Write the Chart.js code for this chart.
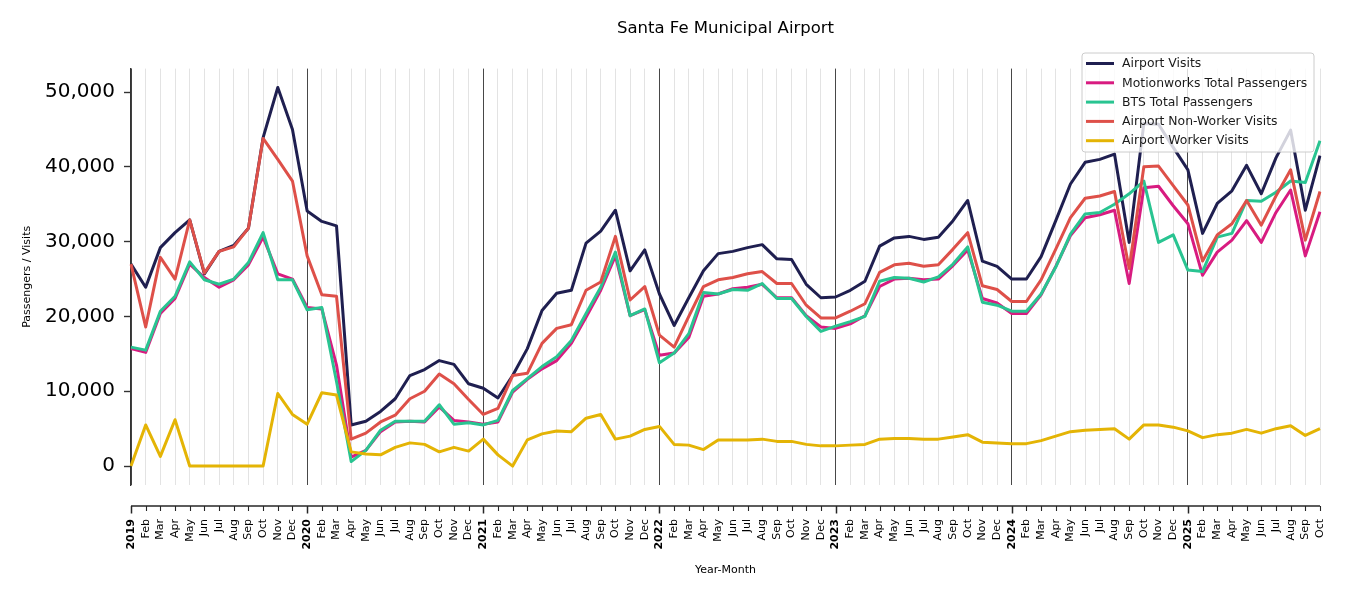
<!DOCTYPE html>
<html>
<head>
<meta charset="utf-8">
<script src="https://cdn.jsdelivr.net/npm/chart.js@4.4.1/dist/chart.umd.min.js"></script>
<style>
html,body{margin:0;padding:0;background:#fff;}
canvas{display:block;}
</style>
</head>
<body>
<canvas id="c" width="1350" height="600"></canvas>
<script>
// ---------- DATA ----------
const categories = [
  '2019','Feb','Mar','Apr','May','Jun','Jul','Aug','Sep','Oct','Nov','Dec',
  '2020','Feb','Mar','Apr','May','Jun','Jul','Aug','Sep','Oct','Nov','Dec',
  '2021','Feb','Mar','Apr','May','Jun','Jul','Aug','Sep','Oct','Nov','Dec',
  '2022','Feb','Mar','Apr','May','Jun','Jul','Aug','Sep','Oct','Nov','Dec',
  '2023','Feb','Mar','Apr','May','Jun','Jul','Aug','Sep','Oct','Nov','Dec',
  '2024','Feb','Mar','Apr','May','Jun','Jul','Aug','Sep','Oct','Nov','Dec',
  '2025','Feb','Mar','Apr','May','Jun','Jul','Aug','Sep','Oct'
];

const airportVisits = [
  27000,23900,29200,31200,32900,25700,28700,29500,31800,43900,50600,45000,
  34100,32700,32100,5500,6000,7300,9000,12100,12900,14100,13600,11000,
  10400,9100,12100,15700,20800,23100,23500,29800,31400,34200,26100,28900,
  23000,18800,22500,26100,28400,28700,29200,29600,27700,27600,24300,22500,
  22600,23500,24700,29400,30500,30700,30300,30600,32800,35500,27400,26700,
  25000,25000,28000,32800,37700,40600,41000,41700,29900,45800,45700,42600,
  39600,31100,35100,36800,40200,36400,41200,44900,34200,41500
];

const motionworksPassengers = [
  15700,15200,20400,22400,27000,25200,23900,24900,26900,30600,25700,25000,
  21200,21000,13500,1200,2100,4600,5900,6000,5900,7900,6100,5900,
  5600,5900,9900,11600,13000,14100,16400,19900,23500,28100,20100,20900,
  14800,15100,17200,22700,23000,23700,23900,24300,22500,22500,20100,18600,
  18400,19000,20100,24000,25000,25100,24900,25000,26800,28900,22400,21800,
  20400,20400,22900,26700,30800,33200,33600,34200,24400,37200,37400,34800,
  32400,25500,28600,30200,32800,29900,33900,36900,28100,34000
];

const btsPassengers = [
  15900,15500,20700,22700,27300,24900,24300,25000,27200,31200,24900,24900,
  20900,21200,11300,600,2100,4800,6000,6000,6000,8200,5600,5800,
  5500,6100,10100,11700,13300,14600,16800,20400,23900,28600,20100,21000,
  13800,15100,17700,23200,23000,23600,23500,24400,22400,22400,20000,18000,
  18700,19300,20000,24700,25200,25100,24600,25300,27000,29300,21900,21500,
  20700,20700,23000,26600,31000,33700,33900,35000,36400,38100,29900,30900,
  26200,26000,30600,31100,35500,35400,36600,38100,37900,43500
];

const nonWorkerVisits = [
  27000,18600,27900,25000,32900,25800,28700,29300,31800,43800,41000,38100,
  28100,22900,22700,3600,4400,5900,6800,9000,10000,12300,11000,8900,
  6900,7700,12100,12400,16400,18400,18900,23500,24600,30700,22200,24000,
  17500,15900,20000,24000,24900,25200,25700,26000,24400,24400,21500,19800,
  19800,20700,21700,25900,26900,27100,26700,26900,29000,31200,24100,23600,
  22000,22000,24900,29000,33200,35800,36100,36700,26400,40000,40100,37500,
  34900,27400,30900,32400,35500,32200,36100,39600,30200,36700
];

const workerVisits = [
  0,5500,1300,6200,0,0,0,0,0,0,9700,6900,
  5600,9800,9500,1900,1600,1500,2500,3100,2900,1900,2500,2000,
  3600,1500,0,3500,4300,4700,4600,6400,6900,3600,4000,4900,
  5300,2900,2800,2200,3500,3500,3500,3600,3300,3300,2900,2700,
  2700,2800,2900,3600,3700,3700,3600,3600,3900,4200,3200,3100,
  3000,3000,3400,4000,4600,4800,4900,5000,3600,5500,5500,5200,
  4700,3800,4200,4400,4900,4400,5000,5400,4100,5000
];

const seriesNames = [
  'Airport Visits',
  'Motionworks Total Passengers',
  'BTS Total Passengers',
  'Airport Non-Worker Visits',
  'Airport Worker Visits'
];
const yTicks = [0, 10000, 20000, 30000, 40000, 50000];
const yMin = -2530;
const yMax = 53130;

const chartTitle = 'Santa Fe Municipal Airport';
const yTitle = 'Passengers / Visits';
const xTitle = 'Year-Month';

// ---------- STYLE ----------
const FONT = 'DejaVu Sans';
const colors = ['#1f1f50', '#d81b80', '#29c491', '#de5049', '#e4b405'];
const isYear = (i) => /^\d{4}$/.test(categories[i] || '');

const seriesData = [airportVisits, motionworksPassengers, btsPassengers, nonWorkerVisits, workerVisits];

const datasets = seriesData.map((d, i) => ({
  label: seriesNames[i],
  data: d,
  borderColor: colors[i],
  backgroundColor: colors[i],
  borderWidth: 3,
  pointRadius: 0,
  pointHoverRadius: 0,
  tension: 0,
  fill: false,
  borderJoinStyle: 'round',
  borderCapStyle: 'butt',
  order: seriesData.length - i
}));

const xAxisPlugin = {
  id: 'offsetXAxis',
  afterDraw(chart) {
    const xs = chart.scales.x;
    const ctx = chart.ctx;
    const yAxisLine = chart.chartArea.bottom + 21;
    ctx.save();
    ctx.strokeStyle = '#262626';
    ctx.lineWidth = 1.5;
    ctx.beginPath();
    ctx.moveTo(xs.getPixelForValue(0), yAxisLine);
    ctx.lineTo(xs.getPixelForValue(categories.length - 1), yAxisLine);
    ctx.stroke();
    for (let i = 0; i < categories.length; i++) {
      const px = Math.round(xs.getPixelForValue(i)) + 0.5;
      ctx.lineWidth = isYear(i) ? 1.5 : 1.1;
      ctx.beginPath();
      ctx.moveTo(px, yAxisLine);
      ctx.lineTo(px, yAxisLine + (isYear(i) ? 7.5 : 5));
      ctx.stroke();
    }
    ctx.restore();
  }
};

const legendPlugin = {
  id: 'boxLegend',
  afterDraw(chart) {
    const ctx = chart.ctx;
    const x0 = 1082, y0 = 53, w = 232, h = 99, r = 3;
    ctx.save();
    ctx.beginPath();
    ctx.moveTo(x0 + r, y0);
    ctx.lineTo(x0 + w - r, y0);
    ctx.quadraticCurveTo(x0 + w, y0, x0 + w, y0 + r);
    ctx.lineTo(x0 + w, y0 + h - r);
    ctx.quadraticCurveTo(x0 + w, y0 + h, x0 + w - r, y0 + h);
    ctx.lineTo(x0 + r, y0 + h);
    ctx.quadraticCurveTo(x0, y0 + h, x0, y0 + h - r);
    ctx.lineTo(x0, y0 + r);
    ctx.quadraticCurveTo(x0, y0, x0 + r, y0);
    ctx.closePath();
    ctx.fillStyle = 'rgba(255,255,255,0.8)';
    ctx.fill();
    ctx.strokeStyle = '#cccccc';
    ctx.lineWidth = 1;
    ctx.stroke();
    chart.data.datasets.forEach((ds, i) => {
      const y = 63.5 + i * 19.3;
      ctx.strokeStyle = ds.borderColor;
      ctx.lineWidth = 3;
      ctx.beginPath();
      ctx.moveTo(1086, y);
      ctx.lineTo(1114, y);
      ctx.stroke();
      ctx.fillStyle = '#1a1a1a';
      ctx.font = '12.4px "' + FONT + '"';
      ctx.textBaseline = 'middle';
      ctx.textAlign = 'left';
      ctx.fillText(ds.label, 1122, y + 0.5);
    });
    ctx.restore();
  }
};

new Chart(document.getElementById('c'), {
  type: 'line',
  data: { labels: categories, datasets },
  plugins: [xAxisPlugin, legendPlugin],
  options: {
    responsive: false,
    animation: false,
    devicePixelRatio: 1,
    layout: { padding: { left: 0, right: 30, top: 0, bottom: 0 } },
    plugins: {
      legend: { display: false },
      tooltip: { enabled: false },
      title: {
        display: true,
        text: chartTitle,
        fullSize: false,
        color: '#000',
        font: { family: FONT, size: 16.5, weight: 'normal' },
        padding: { top: 18.4, bottom: 30.4 }
      }
    },
    scales: {
      x: {
        type: 'category',
        afterFit: (s) => { s.height = 115; },
        border: { display: false },
        grid: {
          display: true,
          drawOnChartArea: true,
          drawTicks: true,
          tickLength: 31,
          tickColor: 'rgba(0,0,0,0)',
          color: (c) => isYear(c.index) ? '#333333' : '#e3e3e3',
          lineWidth: (c) => isYear(c.index) ? 0.9 : 1
        },
        ticks: {
          autoSkip: false,
          maxRotation: 90,
          minRotation: 90,
          padding: 3,
          color: '#000',
          font: (c) => ({ family: FONT, size: 11, weight: isYear(c.index) ? 'bold' : 'normal' })
        },
        title: {
          display: true,
          text: xTitle,
          color: '#000',
          font: { family: FONT, size: 11 },
          padding: { top: 0, bottom: 23.4 }
        }
      },
      y: {
        type: 'linear',
        min: yMin,
        max: yMax,
        afterFit: (s) => { s.width = 131; },
        afterBuildTicks: (s) => { s.ticks = yTicks.map(v => ({ value: v })); },
        border: { display: true, color: '#333333', width: 1.3 },
        grid: {
          drawOnChartArea: false,
          drawTicks: true,
          tickLength: 7,
          tickColor: '#333333',
          tickWidth: 1.4
        },
        ticks: {
          padding: 9,
          color: '#000',
          font: { family: FONT, size: 20 },
          callback: (v) => Number(v).toLocaleString('en-US')
        },
        title: {
          display: true,
          text: yTitle,
          color: '#000',
          font: { family: FONT, size: 11 },
          padding: { top: 20.4, bottom: 0 }
        }
      }
    }
  }
});
</script>
</body>
</html>
